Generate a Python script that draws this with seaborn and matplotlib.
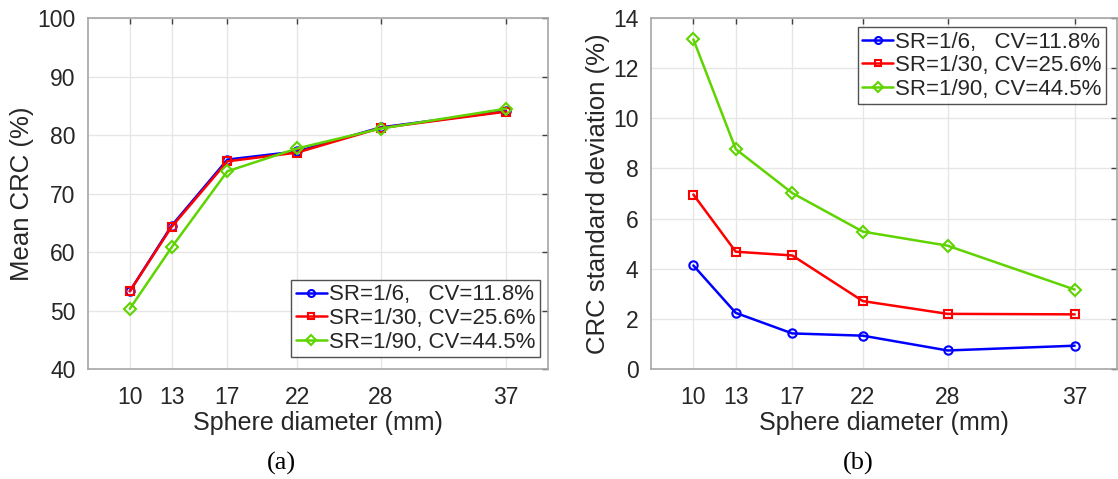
import pandas as pd
import matplotlib
matplotlib.use("Agg")
import matplotlib.pyplot as plt
import seaborn as sns

# Sphere diameters (mm)
diameters = [10, 13, 17, 22, 28, 37]

# Series labels (SR / CV)
labels = ["SR=1/6,   CV=11.8%", "SR=1/30, CV=25.6%", "SR=1/90, CV=44.5%"]

# (a) Mean CRC (%)
mean_sr6 = [53.3, 64.5, 75.8, 77.2, 81.3, 84.1]
mean_sr30 = [53.3, 64.3, 75.5, 77.0, 81.2, 84.0]
mean_sr90 = [50.3, 60.8, 73.8, 77.7, 81.1, 84.5]

# (b) CRC standard deviation (%)
std_sr6 = [4.13, 2.24, 1.42, 1.33, 0.74, 0.93]
std_sr30 = [6.96, 4.68, 4.53, 2.71, 2.20, 2.18]
std_sr90 = [13.15, 8.77, 7.02, 5.48, 4.92, 3.17]

colors = ["#0000ff", "#ff0000", "#5fd400"]
markers = ["o", "s", "D"]

sns.set_theme(style="white")
plt.rcParams.update({
    "font.family": ["Liberation Sans", "DejaVu Sans"],
    "text.color": "#262626",
    "axes.labelcolor": "#262626",
    "xtick.color": "#262626",
    "ytick.color": "#262626",
})


def to_long(series):
    rows = []
    for lab, vals in zip(labels, series):
        for d, v in zip(diameters, vals):
            rows.append({"Diameter": d, "Value": v, "Series": lab})
    return pd.DataFrame(rows)


df_mean = to_long([mean_sr6, mean_sr30, mean_sr90])
df_std = to_long([std_sr6, std_sr30, std_sr90])

fig = plt.figure(figsize=(11.18, 4.79), dpi=100)
ax1 = fig.add_axes([0.0787, 0.2296, 0.4114, 0.7328])
ax2 = fig.add_axes([0.5823, 0.2296, 0.4168, 0.7328])


def draw(ax, df, ylim, yticks, ylabel, loc, bbox):
    sns.lineplot(data=df, x="Diameter", y="Value", hue="Series", style="Series",
                 palette=colors, markers=markers, dashes=False, ax=ax,
                 linewidth=1.8, markersize=6, markerfacecolor="none",
                 markeredgewidth=1.5)
    for line, c in zip(ax.get_lines(), colors):
        line.set_markeredgecolor(c)
        line.set_markerfacecolor("none")
    ax.set_xlim(7, 40)
    ax.set_ylim(*ylim)
    ax.set_xticks(diameters)
    ax.set_yticks(yticks)
    ax.grid(True, color="#e6e6e6", linewidth=1)
    ax.set_axisbelow(True)
    for sp in ax.spines.values():
        sp.set_color("#a6a6a6")
        sp.set_linewidth(1.2)
    ax.tick_params(direction="in", length=4, width=1, top=True, right=True,
                   labelsize=16.5, pad=9, color="#404040")
    ax.tick_params(axis="x", pad=12)
    ax.set_xlabel("Sphere diameter (mm)", fontsize=18, labelpad=2)
    ax.set_ylabel(ylabel, fontsize=18.5, labelpad=2)
    leg = ax.legend(loc=loc, bbox_to_anchor=bbox, fontsize=16, frameon=True,
                    fancybox=False, handlelength=1.4, handletextpad=0.1,
                    borderpad=0.2, labelspacing=0.12, borderaxespad=0.0,
                    title=None)
    leg.get_frame().set_edgecolor("#262626")
    leg.get_frame().set_linewidth(1.0)
    for h, c in zip(leg.legend_handles, colors):
        h.set_color(c)
        h.set_markeredgecolor(c)
        h.set_markerfacecolor("none")
        h.set_markersize(5)


draw(ax1, df_mean, (40, 100), range(40, 101, 10), "Mean CRC (%)",
     "lower right", (0.983, 0.034))
draw(ax2, df_std, (0, 14), range(0, 15, 2), "CRC standard deviation (%)",
     "upper right", (0.977, 0.974))

fig.text(281 / 1118, 1 - 463 / 479, "(a)", ha="center", va="center",
         fontsize=19, family=["Liberation Serif", "DejaVu Serif"], color="black")
fig.text(858 / 1118, 1 - 463 / 479, "(b)", ha="center", va="center",
         fontsize=19, family=["Liberation Serif", "DejaVu Serif"], color="black")

fig.savefig("out.png", dpi=100)
